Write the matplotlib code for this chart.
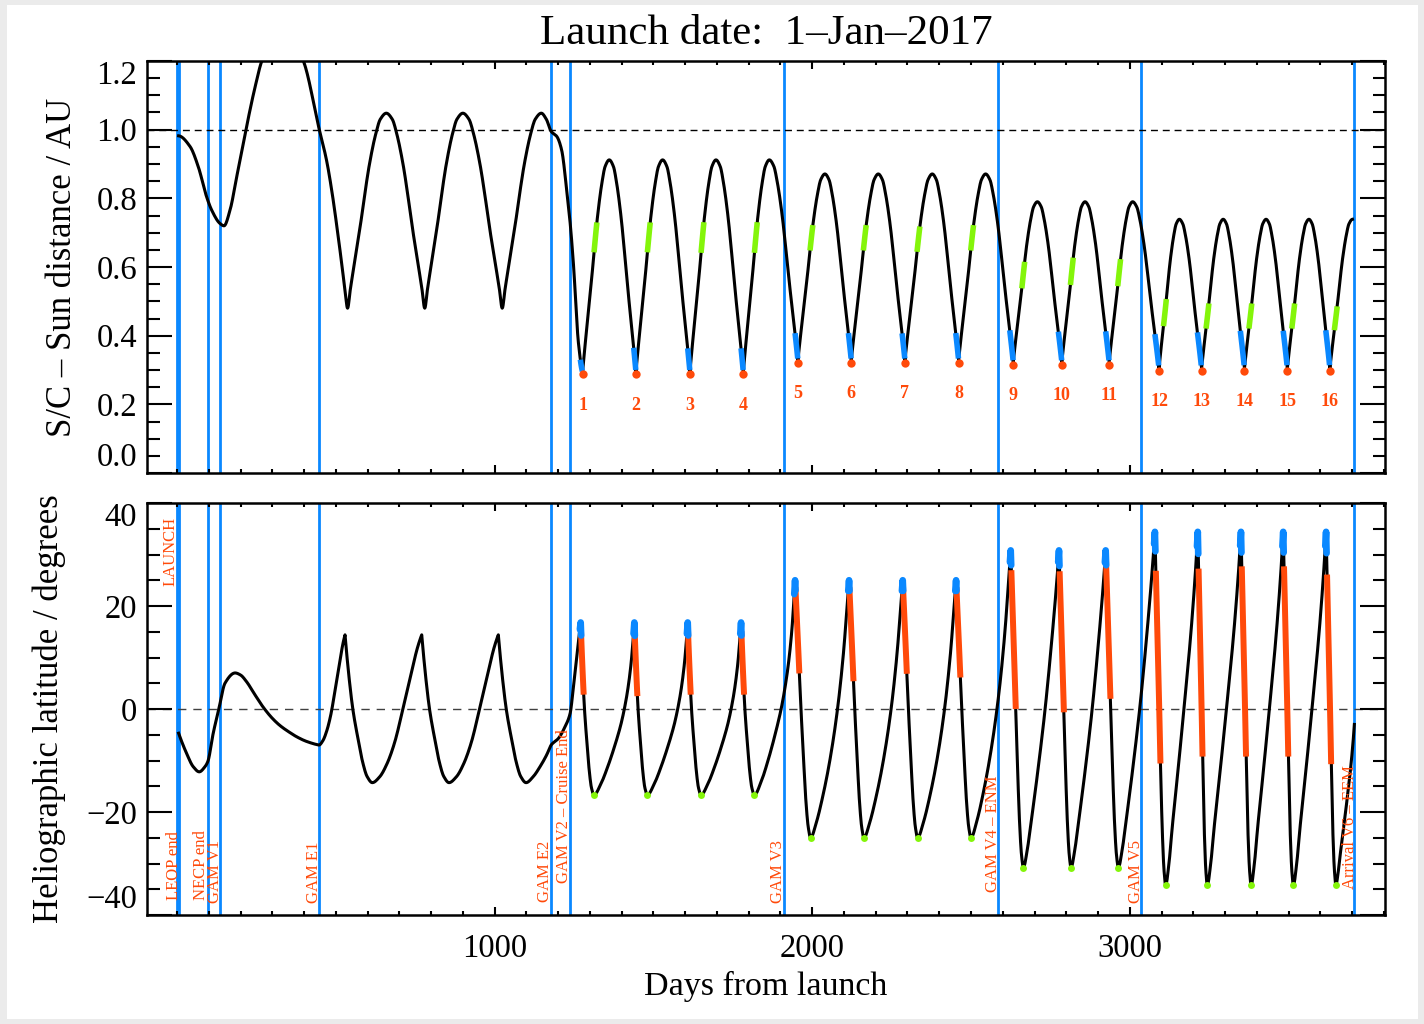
import numpy as np
import matplotlib
matplotlib.use("Agg")
import matplotlib.pyplot as plt
from matplotlib.patches import Rectangle
from matplotlib.ticker import MultipleLocator

# ------------------------------------------------------------------ data
TITLE = "Launch date:  1\u2013Jan\u20132017"
XLABEL = "Days from launch"
YLABEL_TOP = "S/C \u2013 Sun distance / AU"
YLABEL_BOT = "Heliographic latitude / degrees"

X_TICKS = [1000, 2000, 3000]
DIST_TICKS = [0.0, 0.2, 0.4, 0.6, 0.8, 1.0, 1.2]
LAT_TICKS = [-40, -20, 0, 20, 40]

# mission events (vertical lines)
EVENT_DAYS = [0, 5, 97.6, 135, 448, 1178.5, 1238, 1911, 2584, 3036, 3706]

LABEL_TEXT = ["LAUNCH", "LEOP end", "NECP end", "GAM V1", "GAM E1", "GAM E2",
              "GAM V2 \u2013 Cruise End", "GAM V3", "GAM V4 \u2013 ENM", "GAM V5",
              "Arrival V6 \u2013 EEM"]
LABEL_DAY = [-19, -9.4, 77, 119, 431, 1160, 1218.5, 1893, 2568, 3018, 3692]
LABEL_LAT = [37.3, -37.1, -37.1, -37.7, -37.7, -37.5, -33.8, -37.7, -35.5, -37.7, -35.0]
LABEL_AT_TOP = [True, False, False, False, False, False, False, False, False, False, False]

# ---- S/C - Sun distance (AU)
DIST_LAUNCH_DAYS = [5, 41, 67, 93, 109, 135, 148, 167, 188, 217, 246, 267, 332,
                    398, 448, 471, 487, 513, 529, 537, 545]
DIST_LAUNCH_AU = [0.982, 0.951, 0.892, 0.805, 0.766, 0.727, 0.72, 0.766, 0.863, 1.0,
                  1.125, 1.2, 1.31, 1.2, 1.0, 0.91, 0.824, 0.65, 0.533, 0.48, 0.533]
DIST_CRUISE_DAYS = [537, 659, 780, 900, 1024, 1147]
DIST_CRUISE_AU = [0.48, 1.048, 0.48, 1.048, 0.48, 1.048]
DIST_TRANS_DAYS = [1130, 1147, 1163, 1178, 1196, 1211, 1227, 1238, 1248, 1264, 1277]
DIST_TRANS_AU = [1.035, 1.048, 1.03, 0.995, 0.98, 0.941, 0.824, 0.727, 0.611, 0.378, 0.295]
PERI_DAYS = [1277, 1445, 1615, 1783, 1955, 2123, 2292, 2461, 2633, 2786, 2935,
             3092, 3226, 3361, 3496, 3630]
PERI_AU = [0.295, 0.295, 0.295, 0.295, 0.329, 0.329, 0.329, 0.329, 0.324, 0.324, 0.324,
           0.305, 0.305, 0.305, 0.305, 0.305]
APH_DAYS = [1361, 1529, 1697, 1865, 2040, 2208, 2378, 2546, 2709, 2859, 3009,
            3156, 3294, 3429, 3564, 3701]
APH_AU = [0.912, 0.912, 0.912, 0.912, 0.871, 0.871, 0.871, 0.871, 0.79, 0.79, 0.79,
          0.739, 0.739, 0.739, 0.739, 0.739]
# shape of one half orbit (fraction of time from perihelion, fraction of height)
DIST_PROF_T = [0, 0.075, 0.2, 0.325, 0.437, 0.56, 0.724, 0.845, 1.0]
DIST_PROF_H = [0, 0.102, 0.259, 0.417, 0.575, 0.733, 0.891, 0.969, 1.0]

ORBIT_LABELS = [str(i) for i in range(1, 17)]
BLUE_TOP_START = [1270, 1438, 1608, 1776, 1946, 2114, 2283, 2452, 2622, 2775, 2924,
                  3079, 3213, 3348, 3483, 3617]
BLUE_TOP_END = [1276.5, 1444.5, 1614.5, 1782.5, 1954.5, 2122.5, 2291.5, 2460.5,
                2632.5, 2785.5, 2934.5, 3091, 3225, 3360, 3495, 3629]
GREEN_TOP_START = [1313, 1481, 1650, 1818, 1993, 2161, 2330, 2499, 2660, 2813, 2962,
                   3106, 3240, 3375, 3510, 3644]
GREEN_TOP_END = [1322, 1490, 1659, 1827, 2002, 2170, 2339, 2508, 2669, 2822, 2971,
                 3115, 3249, 3384, 3519, 3653]

# ---- heliographic latitude (deg)
LAT_LAUNCH_DAYS = [5, 30, 51, 70, 88, 97, 114, 132, 151, 183, 200, 219, 245, 272, 300,
                   324, 356, 377, 408, 447]
LAT_LAUNCH_DEG = [-4.7, -8.6, -11.2, -12.2, -11.2, -10.2, -4.7, 0.1, 5.0, 7.0, 6.6, 5.3,
                  2.8, 0.3, -1.8, -3.2, -4.6, -5.4, -6.3, -7.0]
LAT_CRUISE_DAYS = [447, 529, 615, 770.5, 856.5, 1011.7, 1099]
LAT_CRUISE_DEG = [-7.0, 14.4, -14.3, 14.4, -14.3, 14.4, -14.3]
LAT_TRANS_DAYS = [1085, 1099, 1122, 1143, 1164, 1178, 1201, 1222, 1238, 1248, 1258.5,
                  1267, 1271]
LAT_TRANS_DEG = [-13.3, -14.3, -13.1, -11.2, -8.9, -7.0, -5.7, -3.4, -0.8, 4.3, 10.2,
                 14.7, 16.8]
LATMAX_DAYS = [1271, 1440, 1608, 1776, 1946, 2116, 2285, 2453, 2625, 2777, 2924,
               3079, 3214, 3350, 3483, 3618]
LATMAX_DEG = [16.8, 16.8, 16.8, 16.8, 25.0, 25.0, 25.0, 25.0, 30.8, 30.8, 30.8,
              34.4, 34.4, 34.4, 34.4, 34.4]
LATMIN_DAYS = [1313, 1481, 1650, 1818, 1995, 2163, 2332, 2500, 2665, 2815, 2964,
               3113, 3244, 3382, 3515, 3649]
LATMIN_DEG = [-16.7, -16.7, -16.7, -16.7, -25.0, -25.0, -25.0, -25.0, -30.8, -30.8,
              -30.8, -34.2, -34.2, -34.2, -34.2, -34.2]
LAT_END_DAY = 3707
LAT_END_DEG = -3.0
ORBIT_GROUP = [0, 0, 0, 0, 1, 1, 1, 1, 2, 2, 2, 3, 3, 3, 3, 3]

# rise (min -> max) and fall (max -> min) shapes, t measured from the minimum
LAT_RISE_T = [[0, 0.1675, 0.3325, 0.5, 0.6675, 0.75, 0.8325, 0.9175, 0.9675, 1],
              [0, 0.15, 0.3, 0.5, 0.70, 0.85, 0.95, 1],
              [0, 0.1, 0.2, 0.4, 0.61, 0.8, 0.95, 1],
              [0, 0.1, 0.2, 0.4, 0.57, 0.8, 0.95, 1]]
LAT_RISE_H = [[0, 0.063, 0.159, 0.275, 0.410, 0.497, 0.605, 0.76, 0.895, 1],
              [0, 0.06, 0.15, 0.30, 0.5, 0.71, 0.9, 1],
              [0, 0.05, 0.13, 0.3, 0.5, 0.72, 0.92, 1],
              [0, 0.06, 0.16, 0.34, 0.5, 0.73, 0.92, 1]]
LAT_FALL_T = [[0, 0.193, 0.357, 0.521, 0.714, 0.836, 1],
              [0, 0.15, 0.3, 0.45, 0.62, 0.8, 1],
              [0, 0.15, 0.3, 0.45, 0.6, 0.8, 1],
              [0, 0.15, 0.3, 0.45, 0.6, 0.8, 1]]
LAT_FALL_H = [[0, 0.042, 0.141, 0.293, 0.497, 0.683, 1],
              [0, 0.04, 0.14, 0.3, 0.5, 0.74, 1],
              [0, 0.04, 0.14, 0.3, 0.5, 0.75, 1],
              [0, 0.04, 0.14, 0.3, 0.5, 0.75, 1]]
CRUISE_RISE_T = [0, 0.15, 0.3, 0.45, 0.62, 0.8, 0.92, 1]
CRUISE_RISE_H = [0, 0.04, 0.13, 0.27, 0.5, 0.76, 0.92, 1]

ORANGE_LAT_START = [1272, 1441, 1609, 1777, 1947, 2117, 2286, 2454, 2627, 2779, 2925,
                    3082, 3216.5, 3352.5, 3485.5, 3621]
ORANGE_LAT_END = [1280.5, 1449.5, 1617.5, 1785.5, 1959.5, 2130, 2298, 2466.5, 2641,
                  2792.5, 2939, 3096.5, 3229, 3366, 3499, 3634]

# ------------------------------------------------------------------ helpers
def pchip(x, y, xi):
    x = np.asarray(x, float); y = np.asarray(y, float); xi = np.asarray(xi, float)
    h = np.diff(x); d = np.diff(y) / h
    n = len(x)
    m = np.zeros(n)
    for k in range(1, n - 1):
        if d[k - 1] * d[k] > 0:
            w1 = 2 * h[k] + h[k - 1]; w2 = h[k] + 2 * h[k - 1]
            m[k] = (w1 + w2) / (w1 / d[k - 1] + w2 / d[k])

    def endslope(h0, h1, d0, d1):
        s = ((2 * h0 + h1) * d0 - h0 * d1) / (h0 + h1)
        if np.sign(s) != np.sign(d0):
            s = 0.0
        elif np.sign(d0) != np.sign(d1) and abs(s) > abs(3 * d0):
            s = 3 * d0
        return s
    if n > 2:
        m[0] = endslope(h[0], h[1], d[0], d[1])
        m[-1] = endslope(h[-1], h[-2], d[-1], d[-2])
    else:
        m[:] = d[0]
    idx = np.clip(np.searchsorted(x, xi) - 1, 0, n - 2)
    t = (xi - x[idx]) / h[idx]
    h00 = 2 * t**3 - 3 * t**2 + 1; h10 = t**3 - 2 * t**2 + t
    h01 = -2 * t**3 + 3 * t**2; h11 = t**3 - t**2
    return h00 * y[idx] + h10 * h[idx] * m[idx] + h01 * y[idx + 1] + h11 * h[idx] * m[idx + 1]


def profile_eval(tp, hp, t, mirror_low, mirror_high):
    tp = np.asarray(tp, float); hp = np.asarray(hp, float)
    if mirror_low:
        tp = np.concatenate([-tp[:0:-1], tp]); hp = np.concatenate([hp[:0:-1], hp])
    if mirror_high:
        tp = np.concatenate([tp, 2 - tp[-2::-1]]); hp = np.concatenate([hp, hp[-2::-1]])
    return pchip(tp, hp, t)


def branch(d0, v0, d1, v1, rise, fall, mlow, mhigh, n=90):
    d = np.linspace(d0, d1, n)
    if v1 >= v0:
        t = (d - d0) / (d1 - d0); tp, hp = rise; lo, hi = v0, v1
    else:
        t = (d1 - d) / (d1 - d0); tp, hp = fall; lo, hi = v1, v0
    return d, lo + profile_eval(tp, hp, t, mlow, mhigh) * (hi - lo)


def segment(dd, vv, a, b):
    m = (dd > a) & (dd < b)
    xs = np.concatenate([[a], dd[m], [b]])
    return xs, np.interp(xs, dd, vv)

# ------------------------------------------------------------------ build curves
prof_d = (DIST_PROF_T, DIST_PROF_H)
parts = []
xs = np.linspace(DIST_LAUNCH_DAYS[0], DIST_CRUISE_DAYS[0], 500)
parts.append((xs, pchip(DIST_LAUNCH_DAYS, DIST_LAUNCH_AU, xs)))
for i in range(len(DIST_CRUISE_DAYS) - 1):
    parts.append(branch(DIST_CRUISE_DAYS[i], DIST_CRUISE_AU[i], DIST_CRUISE_DAYS[i + 1],
                        DIST_CRUISE_AU[i + 1], prof_d, prof_d, True, True))
xs = np.linspace(1147, 1277, 200)
parts.append((xs, pchip(DIST_TRANS_DAYS, DIST_TRANS_AU, xs)))
ext_d, ext_v = [], []
for p, pv, a, av in zip(PERI_DAYS, PERI_AU, APH_DAYS, APH_AU):
    ext_d += [p, a]; ext_v += [pv, av]
for i in range(len(ext_d) - 1):
    parts.append(branch(ext_d[i], ext_v[i], ext_d[i + 1], ext_v[i + 1], prof_d, prof_d,
                        False, True))
dist_days = np.concatenate([p[0] for p in parts])
dist_val = np.concatenate([p[1] for p in parts])

parts = []
xs = np.linspace(LAT_LAUNCH_DAYS[0], LAT_LAUNCH_DAYS[-1], 500)
parts.append((xs, pchip(LAT_LAUNCH_DAYS, LAT_LAUNCH_DEG, xs)))
cr_rise = (CRUISE_RISE_T, CRUISE_RISE_H)
cr_fall = (LAT_FALL_T[0], LAT_FALL_H[0])
for i in range(len(LAT_CRUISE_DAYS) - 1):
    parts.append(branch(LAT_CRUISE_DAYS[i], LAT_CRUISE_DEG[i], LAT_CRUISE_DAYS[i + 1],
                        LAT_CRUISE_DEG[i + 1], cr_rise, cr_fall, True, False))
xs = np.linspace(1099, 1271, 200)
parts.append((xs, pchip(LAT_TRANS_DAYS, LAT_TRANS_DEG, xs)))
for k in range(len(LATMAX_DAYS)):
    g = ORBIT_GROUP[k]
    rise = (LAT_RISE_T[g], LAT_RISE_H[g]); fall = (LAT_FALL_T[g], LAT_FALL_H[g])
    parts.append(branch(LATMAX_DAYS[k], LATMAX_DEG[k], LATMIN_DAYS[k], LATMIN_DEG[k],
                        rise, fall, True, False))
    if k + 1 < len(LATMAX_DAYS):
        nd, nv = LATMAX_DAYS[k + 1], LATMAX_DEG[k + 1]
    else:
        nd, nv = LAT_END_DAY, LAT_END_DEG
    parts.append(branch(LATMIN_DAYS[k], LATMIN_DEG[k], nd, nv, rise, fall, True, False))
lat_days = np.concatenate([p[0] for p in parts])
lat_val = np.concatenate([p[1] for p in parts])

# ------------------------------------------------------------------ figure
plt.rcParams['font.family'] = ['Liberation Serif', 'DejaVu Serif']
plt.rcParams['axes.unicode_minus'] = True

W, H = 1424, 1024
fig = plt.figure(figsize=(W / 100, H / 100), dpi=100)
fig.patch.set_facecolor('#ebebeb')
bg = Rectangle((7 / W, 1 - 1019 / H), 1411 / W, 1014 / H, transform=fig.transFigure,
               facecolor='white', edgecolor='none', zorder=-100)
fig.add_artist(bg)

LEFT, AXW, AXH = 147 / W, 1238 / W, 412 / H
ax1 = fig.add_axes([LEFT, 1 - 473 / H, AXW, AXH])
ax2 = fig.add_axes([LEFT, 1 - 915 / H, AXW, AXH])

BLUE = '#0a88ff'
ORANGE = '#ff4a0a'
GREEN = '#84f50a'
XLIM = (-94.5, 3803.5)

for ax in (ax1, ax2):
    ax.set_zorder(1)
    for d in EVENT_DAYS:
        ax.axvline(d, color=BLUE, lw=2.0, zorder=1)
    ax.set_xlim(*XLIM)
    ax.set_xticks(X_TICKS)
    ax.xaxis.set_minor_locator(MultipleLocator(100))
    ax.tick_params(which='both', direction='in', top=True, right=True, width=1.5,
                   labelsize=23.5, color='black')
    ax.tick_params(axis='y', which='major', length=18, pad=7)
    ax.tick_params(axis='y', which='minor', length=9)
    ax.tick_params(axis='x', which='major', length=6, pad=13)
    ax.tick_params(axis='x', which='minor', length=3)
    for s in ax.spines.values():
        s.set_linewidth(1.8)
    ax.set_facecolor('white')

# ---- top panel
ax1.axhline(1.0, color='black', lw=1.0, ls=(0, (5, 3.5)), zorder=1.5)
ax1.plot(dist_days, dist_val, color='black', lw=2.2, zorder=2, solid_joinstyle='round')
for a, b in zip(BLUE_TOP_START, BLUE_TOP_END):
    x, y = segment(dist_days, dist_val, a, b)
    ax1.plot(x, y, color=BLUE, lw=4.0, zorder=3, solid_capstyle='butt')
for a, b in zip(GREEN_TOP_START, GREEN_TOP_END):
    x, y = segment(dist_days, dist_val, a, b)
    ax1.plot(x, y, color=GREEN, lw=4.0, zorder=3, solid_capstyle='butt')
for d, v, lab in zip(PERI_DAYS, PERI_AU, ORBIT_LABELS):
    ax1.plot([d], [v - 0.008], 'o', color=ORANGE, ms=6, mec='none', zorder=4)
    ax1.text(d, v - 0.098, lab, color=ORANGE, fontsize=13, ha='center', va='center',
             fontweight='bold')
ax1.set_ylim(0, 1.2)
ax1.set_yticks(DIST_TICKS, labels=['%.1f' % v for v in DIST_TICKS])
ax1.yaxis.set_minor_locator(MultipleLocator(0.05))
ax1.tick_params(axis='x', labelbottom=False)
ax1.set_ylabel(YLABEL_TOP, fontsize=25)
ax1.yaxis.set_label_coords((79 - 147) / 1238, 0.5)

# ---- bottom panel
ax2.axhline(0.0, color='#404040', lw=1.0, ls=(0, (6, 5)), zorder=1.5)
ax2.plot(lat_days, lat_val, color='black', lw=2.2, zorder=2, solid_joinstyle='round')
for a, b in zip(ORANGE_LAT_START, ORANGE_LAT_END):
    x, y = segment(lat_days, lat_val, a, b)
    ax2.plot(x, y, color=ORANGE, lw=4.3, zorder=3, solid_capstyle='butt')
for d in LATMAX_DAYS:
    x, y = segment(lat_days, lat_val, d - 2.5, d + 1.5)
    ax2.plot(x, y, color=BLUE, lw=4.8, zorder=3.5, solid_capstyle='round')
for d, v in zip(LATMIN_DAYS, LATMIN_DEG):
    ax2.plot([d], [v], 'o', color=GREEN, ms=5, mec='none', zorder=4)
for txt, d, la, top in zip(LABEL_TEXT, LABEL_DAY, LABEL_LAT, LABEL_AT_TOP):
    ax2.text(d, la, txt, rotation=90, color=ORANGE, fontsize=12, ha='center',
             va='top' if top else 'bottom', zorder=5)
ax2.set_ylim(-40, 40)
ax2.set_yticks(LAT_TICKS, labels=[('\u2212%d' % -v) if v < 0 else '%d' % v for v in LAT_TICKS])
ax2.yaxis.set_minor_locator(MultipleLocator(5))
ax2.set_ylabel(YLABEL_BOT, fontsize=25)
ax2.yaxis.set_label_coords((66 - 147) / 1238, 0.5)
ax2.set_xlabel(XLABEL, fontsize=24.5)
ax2.xaxis.label.set_va('baseline')
ax2.xaxis.set_label_coords(0.5, -(995 - 915) / 412)

fig.text(766 / W, 1 - 44 / H, TITLE, ha='center', va='baseline', fontsize=31)

# IDL-like placement of extreme y tick labels (kept inside the axis range)
for ax in (ax1, ax2):
    ticks = ax.yaxis.get_major_ticks()
    ticks[0].label1.set_va('bottom')
    ticks[-1].label1.set_va('top')

fig.savefig('out.png', dpi=100, facecolor=fig.get_facecolor())
